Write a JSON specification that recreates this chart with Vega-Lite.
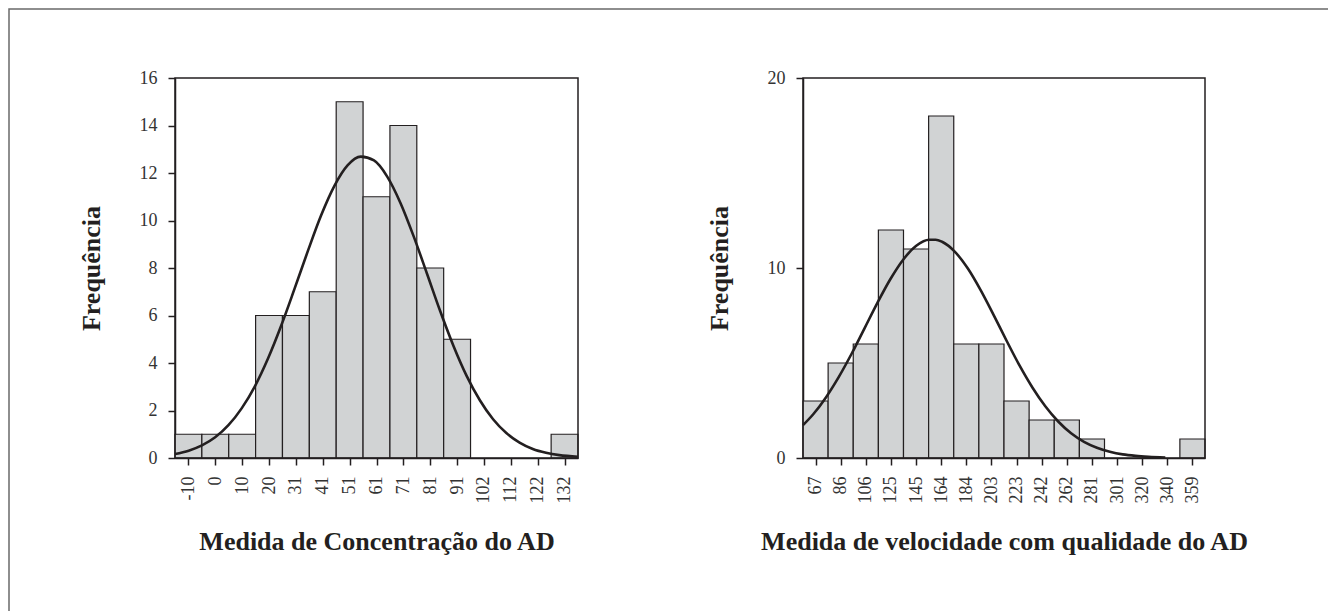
{
  "$schema": "https://vega.github.io/schema/vega-lite/v6.json",
  "width": 1321,
  "height": 604,
  "autosize": {"type": "none"},
  "padding": {"left": 9, "top": 9, "right": -2, "bottom": -2},
  "background": "white",
  "config": {
    "font": "Liberation Serif",
    "view": {"stroke": "#6a6a6a", "strokeWidth": 1.5},
    "axis": {
      "grid": false,
      "domainColor": "#231f20",
      "domainWidth": 1.5,
      "tickColor": "#231f20",
      "tickWidth": 1.5,
      "tickSize": 7,
      "labelFont": "Liberation Serif",
      "labelFontSize": 18,
      "labelColor": "#333333",
      "labelPadding": 11,
      "labelFlush": false,
      "labelOverlap": false,
      "titleFont": "Liberation Serif",
      "titleFontSize": 26,
      "titleFontWeight": "bold",
      "titleColor": "#231f20"
    }
  },
  "datasets": {
    "hist1": [
      {"bin_start": -15.175, "bin_end": -5.025, "count": 1},
      {"bin_start": -5.025, "bin_end": 5.125, "count": 1},
      {"bin_start": 5.125, "bin_end": 15.275, "count": 1},
      {"bin_start": 15.275, "bin_end": 25.425, "count": 6},
      {"bin_start": 25.425, "bin_end": 35.575, "count": 6},
      {"bin_start": 35.575, "bin_end": 45.725, "count": 7},
      {"bin_start": 45.725, "bin_end": 55.875, "count": 15},
      {"bin_start": 55.875, "bin_end": 66.025, "count": 11},
      {"bin_start": 66.025, "bin_end": 76.175, "count": 14},
      {"bin_start": 76.175, "bin_end": 86.325, "count": 8},
      {"bin_start": 86.325, "bin_end": 96.475, "count": 5},
      {"bin_start": 126.925, "bin_end": 137.075, "count": 1}
    ],
    "curve1": [
      {"x": -15.175, "y": 0.17}, {"x": -10, "y": 0.31}, {"x": -5, "y": 0.53}, {"x": 0, "y": 0.87},
      {"x": 5, "y": 1.38}, {"x": 10, "y": 2.09}, {"x": 15, "y": 3.02}, {"x": 20, "y": 4.2},
      {"x": 25, "y": 5.59}, {"x": 30, "y": 7.13}, {"x": 35, "y": 8.71}, {"x": 40, "y": 10.21},
      {"x": 45, "y": 11.45}, {"x": 50, "y": 12.32}, {"x": 55, "y": 12.69}, {"x": 60, "y": 12.53},
      {"x": 65, "y": 11.85}, {"x": 70, "y": 10.74}, {"x": 75, "y": 9.33}, {"x": 80, "y": 7.77},
      {"x": 85, "y": 6.19}, {"x": 90, "y": 4.73}, {"x": 95, "y": 3.46}, {"x": 100, "y": 2.43},
      {"x": 105, "y": 1.63}, {"x": 110, "y": 1.05}, {"x": 115, "y": 0.65}, {"x": 120, "y": 0.38},
      {"x": 125, "y": 0.22}, {"x": 130, "y": 0.12}, {"x": 137.075, "y": 0.05}
    ],
    "hist2": [
      {"bin_start": 57.235, "bin_end": 76.705, "count": 3},
      {"bin_start": 76.705, "bin_end": 96.175, "count": 5},
      {"bin_start": 96.175, "bin_end": 115.645, "count": 6},
      {"bin_start": 115.645, "bin_end": 135.115, "count": 12},
      {"bin_start": 135.115, "bin_end": 154.585, "count": 11},
      {"bin_start": 154.585, "bin_end": 174.055, "count": 18},
      {"bin_start": 174.055, "bin_end": 193.525, "count": 6},
      {"bin_start": 193.525, "bin_end": 212.995, "count": 6},
      {"bin_start": 212.995, "bin_end": 232.465, "count": 3},
      {"bin_start": 232.465, "bin_end": 251.935, "count": 2},
      {"bin_start": 251.935, "bin_end": 271.405, "count": 2},
      {"bin_start": 271.405, "bin_end": 290.875, "count": 1},
      {"bin_start": 349.285, "bin_end": 368.755, "count": 1}
    ],
    "curve2": [
      {"x": 57.235, "y": 1.73}, {"x": 65, "y": 2.29}, {"x": 75, "y": 3.19}, {"x": 85, "y": 4.27},
      {"x": 95, "y": 5.5}, {"x": 105, "y": 6.84}, {"x": 115, "y": 8.18}, {"x": 125, "y": 9.42},
      {"x": 135, "y": 10.45}, {"x": 145, "y": 11.17}, {"x": 155, "y": 11.49}, {"x": 160, "y": 11.49},
      {"x": 165, "y": 11.38}, {"x": 175, "y": 10.85}, {"x": 185, "y": 9.97}, {"x": 195, "y": 8.82},
      {"x": 205, "y": 7.52}, {"x": 215, "y": 6.17}, {"x": 225, "y": 4.87}, {"x": 235, "y": 3.71},
      {"x": 245, "y": 2.72}, {"x": 255, "y": 1.92}, {"x": 265, "y": 1.3}, {"x": 275, "y": 0.85},
      {"x": 285, "y": 0.54}, {"x": 295, "y": 0.33}, {"x": 305, "y": 0.19}, {"x": 315, "y": 0.11},
      {"x": 325, "y": 0.06}, {"x": 338, "y": 0.02}
    ]
  },
  "resolve": {"scale": {"x": "independent", "y": "independent"}, "axis": {"x": "independent", "y": "independent"}},
  "layer": [
    {
      "layer": [
        {
          "data": {"name": "hist1"},
          "mark": {"type": "rect", "fill": "#d1d3d4", "stroke": "#231f20", "strokeWidth": 1.2},
          "encoding": {
            "x": {
              "field": "bin_start", "type": "quantitative",
              "title": "Medida de Concentração do AD",
              "scale": {"domain": [-15.175, 137.075], "range": [166, 569], "nice": false, "zero": false},
              "axis": {
                "orient": "bottom", "offset": -155, "labelAngle": -90, "titlePadding": 25,
                "values": [-10.1, 0.05, 10.2, 20.35, 30.5, 40.65, 50.8, 60.95, 71.1, 81.25, 91.4, 101.55, 111.7, 121.85, 132.0],
                "labelExpr": "'' + round(datum.value)"
              }
            },
            "x2": {"field": "bin_end"},
            "y": {
              "field": "count", "type": "quantitative",
              "title": "Frequência",
              "scale": {"domain": [0, 16], "range": [449, 69], "nice": false, "zero": true},
              "axis": {"orient": "left", "offset": -166, "titlePadding": 35, "values": [0, 2, 4, 6, 8, 10, 12, 14, 16]}
            },
            "y2": {"datum": 0}
          }
        },
        {
          "data": {"values": [{}]},
          "mark": {"type": "rect", "fill": "transparent", "stroke": "#231f20", "strokeWidth": 1.5},
          "encoding": {
            "x": {"datum": -15.175, "type": "quantitative", "title": "Medida de Concentração do AD"},
            "x2": {"datum": 137.075},
            "y": {"datum": 0, "type": "quantitative", "title": "Frequência"},
            "y2": {"datum": 16}
          }
        },
        {
          "data": {"name": "curve1"},
          "mark": {"type": "line", "color": "#231f20", "strokeWidth": 2.6, "interpolate": "monotone"},
          "encoding": {
            "x": {"field": "x", "type": "quantitative", "title": "Medida de Concentração do AD"},
            "y": {"field": "y", "type": "quantitative", "title": "Frequência"}
          }
        }
      ]
    },
    {
      "layer": [
        {
          "data": {"name": "hist2"},
          "mark": {"type": "rect", "fill": "#d1d3d4", "stroke": "#231f20", "strokeWidth": 1.2},
          "encoding": {
            "x": {
              "field": "bin_start", "type": "quantitative",
              "title": "Medida de velocidade com qualidade do AD",
              "scale": {"domain": [57.235, 368.755], "range": [794, 1196], "nice": false, "zero": false},
              "axis": {
                "orient": "bottom", "offset": -155, "labelAngle": -90, "titlePadding": 25,
                "values": [66.97, 86.44, 105.91, 125.38, 144.85, 164.32, 183.79, 203.26, 222.73, 242.2, 261.67, 281.14, 300.61, 320.08, 339.55, 359.02],
                "labelExpr": "'' + round(datum.value)"
              }
            },
            "x2": {"field": "bin_end"},
            "y": {
              "field": "count", "type": "quantitative",
              "title": "Frequência",
              "scale": {"domain": [0, 20], "range": [449, 69], "nice": false, "zero": true},
              "axis": {"orient": "left", "offset": -794, "titlePadding": 35, "values": [0, 10, 20]}
            },
            "y2": {"datum": 0}
          }
        },
        {
          "data": {"values": [{}]},
          "mark": {"type": "rect", "fill": "transparent", "stroke": "#231f20", "strokeWidth": 1.5},
          "encoding": {
            "x": {"datum": 57.235, "type": "quantitative", "title": "Medida de velocidade com qualidade do AD"},
            "x2": {"datum": 368.755},
            "y": {"datum": 0, "type": "quantitative", "title": "Frequência"},
            "y2": {"datum": 20}
          }
        },
        {
          "data": {"name": "curve2"},
          "mark": {"type": "line", "color": "#231f20", "strokeWidth": 2.6, "interpolate": "monotone"},
          "encoding": {
            "x": {"field": "x", "type": "quantitative", "title": "Medida de velocidade com qualidade do AD"},
            "y": {"field": "y", "type": "quantitative", "title": "Frequência"}
          }
        }
      ]
    }
  ]
}
